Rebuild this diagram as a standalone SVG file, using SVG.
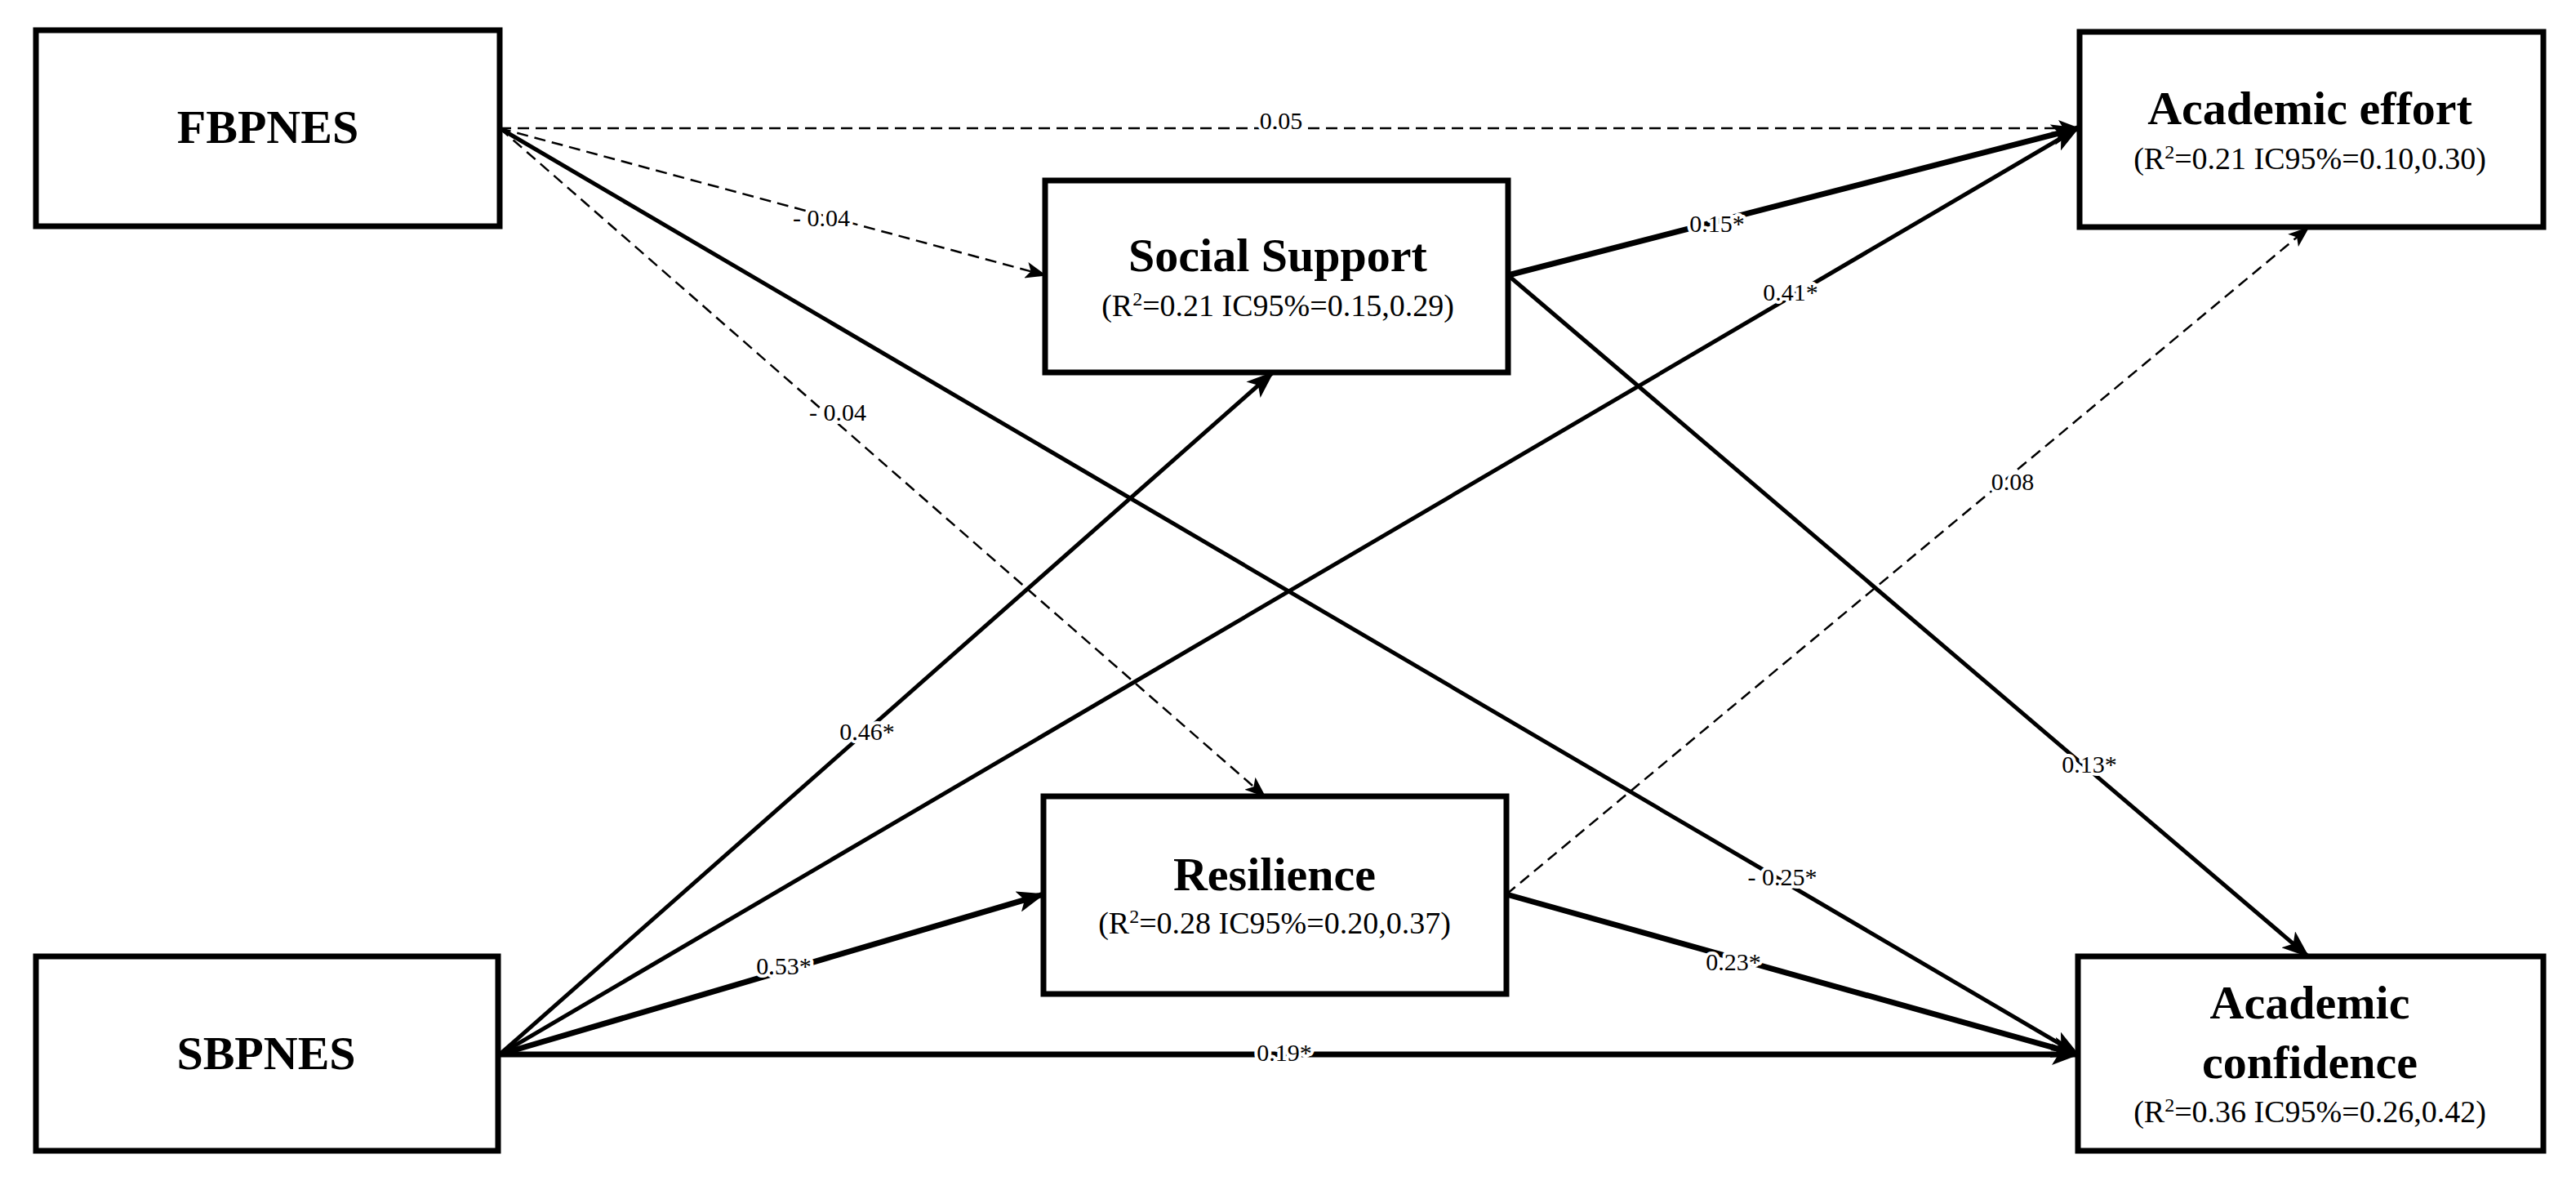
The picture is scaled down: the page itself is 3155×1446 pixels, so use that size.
<svg xmlns="http://www.w3.org/2000/svg" width="3155" height="1446" viewBox="0 0 3155 1446">
<style>
.box{fill:#fff;stroke:#000;stroke-width:7}
.t{font-family:"Liberation Serif",serif;font-weight:bold;font-size:58px;text-anchor:middle;fill:#000}
.s{font-family:"Liberation Serif",serif;font-size:38px;text-anchor:middle;fill:#000}
.e{fill:none;stroke:#000}
.thick{stroke-width:7}
.mid{stroke-width:5}
.dash{stroke-width:2.5;stroke-dasharray:14 8}
.lab{font-family:"Liberation Serif",serif;font-size:30px;text-anchor:middle;fill:#000;stroke:#fff;stroke-width:8;paint-order:stroke;stroke-linejoin:round}
</style>
<defs>
<marker id="a" markerUnits="userSpaceOnUse" markerWidth="34" markerHeight="26" refX="32" refY="13" orient="auto"><path d="M0,0 L34,13 L0,26 L8,13 Z" fill="#000"/></marker>
<marker id="b" markerUnits="userSpaceOnUse" markerWidth="26" markerHeight="20" refX="24" refY="10" orient="auto"><path d="M0,0 L26,10 L0,20 L6,10 Z" fill="#000"/></marker>
</defs>
<rect width="3155" height="1446" fill="#fff"/>
<g id="connectors">
<line class="e dash" x1="612" y1="157" x2="2545" y2="157" marker-end="url(#b)"/>
<line class="e dash" x1="612" y1="157" x2="1280" y2="337" marker-end="url(#b)"/>
<line class="e dash" x1="612" y1="157" x2="1549" y2="975" marker-end="url(#b)"/>
<line class="e mid" x1="612" y1="157" x2="2545" y2="1291" marker-end="url(#a)"/>
<line class="e thick" x1="1847" y1="337" x2="2545" y2="157" marker-end="url(#a)"/>
<line class="e mid" x1="1847" y1="337" x2="2827" y2="1171" marker-end="url(#a)"/>
<line class="e mid" x1="612" y1="1291" x2="1559" y2="456" marker-end="url(#a)"/>
<line class="e mid" x1="612" y1="1291" x2="2545" y2="157" marker-end="url(#a)"/>
<line class="e thick" x1="612" y1="1291" x2="1278" y2="1095" marker-end="url(#a)"/>
<line class="e thick" x1="612" y1="1291" x2="2545" y2="1291" marker-end="url(#a)"/>
<line class="e thick" x1="1845" y1="1095" x2="2545" y2="1291" marker-end="url(#a)"/>
<line class="e dash" x1="1845" y1="1095" x2="2827" y2="279" marker-end="url(#b)"/>
<text class="lab" x="1569" y="158">0.05</text>
<text class="lab" x="1006" y="277">- 0.04</text>
<text class="lab" x="1026" y="515">- 0.04</text>
<text class="lab" x="2183" y="1084">- 0.25*</text>
<text class="lab" x="2103" y="284">0.15*</text>
<text class="lab" x="2559" y="946">0.13*</text>
<text class="lab" x="1062" y="906">0.46*</text>
<text class="lab" x="2193" y="368">0.41*</text>
<text class="lab" x="960" y="1193">0.53*</text>
<text class="lab" x="1573" y="1299">0.19*</text>
<text class="lab" x="2123" y="1188">0.23*</text>
<text class="lab" x="2465" y="600">0.08</text>
</g>
<g id="FBPNES"><rect class="box" x="44" y="37" width="568" height="240"/><text class="t" x="328" y="175">FBPNES</text></g>
<g id="SBPNES"><rect class="box" x="44" y="1171" width="566" height="238"/><text class="t" x="326" y="1309">SBPNES</text></g>
<g id="SocialSupport"><rect class="box" x="1280" y="221" width="567" height="235"/><text class="t" x="1565" y="332">Social Support</text><text class="s" x="1565" y="387">(R<tspan font-size="24" baseline-shift="55%">2</tspan>=0.21  IC95%=0.15,0.29)</text></g>
<g id="Resilience"><rect class="box" x="1278" y="975" width="567" height="242"/><text class="t" x="1561" y="1090">Resilience</text><text class="s" x="1561" y="1143">(R<tspan font-size="24" baseline-shift="55%">2</tspan>=0.28  IC95%=0.20,0.37)</text></g>
<g id="AcademicEffort"><rect class="box" x="2547" y="39" width="568" height="239"/><text class="t" x="2829" y="152">Academic effort</text><text class="s" x="2829" y="207">(R<tspan font-size="24" baseline-shift="55%">2</tspan>=0.21  IC95%=0.10,0.30)</text></g>
<g id="AcademicConfidence"><rect class="box" x="2545" y="1171" width="570" height="238"/><text class="t" x="2829" y="1247">Academic</text><text class="t" x="2829" y="1320">confidence</text><text class="s" x="2829" y="1374">(R<tspan font-size="24" baseline-shift="55%">2</tspan>=0.36  IC95%=0.26,0.42)</text></g>
</svg>
